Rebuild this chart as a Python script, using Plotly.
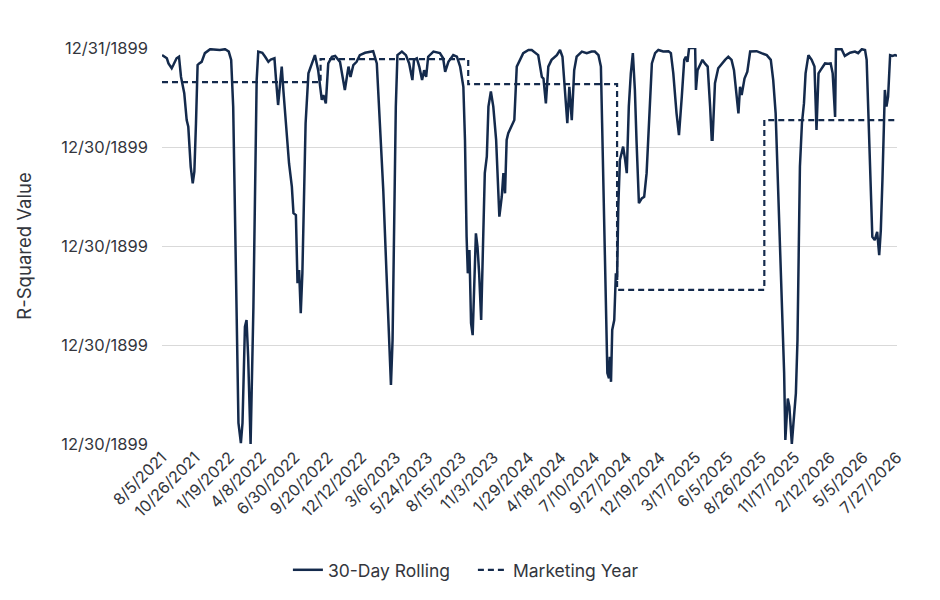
import plotly.graph_objects as go

# 30-day rolling R-squared
rolling_dates = [
    "2021-08-05", "2021-08-17", "2021-08-21", "2021-08-29", "2021-09-02", "2021-09-10",
    "2021-09-16", "2021-09-21", "2021-09-29", "2021-10-05", "2021-10-09", "2021-10-15",
    "2021-10-20", "2021-10-24", "2021-10-28", "2021-11-01", "2021-11-05", "2021-11-11",
    "2021-11-19", "2021-12-02", "2021-12-26", "2022-01-08", "2022-01-17", "2022-01-23",
    "2022-01-28", "2022-02-01", "2022-02-06", "2022-02-10", "2022-02-16", "2022-02-20",
    "2022-02-26", "2022-03-02", "2022-03-06", "2022-03-12", "2022-03-19", "2022-03-23",
    "2022-03-27", "2022-03-31", "2022-04-10", "2022-04-17", "2022-04-25", "2022-05-01",
    "2022-05-10", "2022-05-14", "2022-05-19", "2022-05-24", "2022-05-28", "2022-06-01",
    "2022-06-09", "2022-06-15", "2022-06-22", "2022-06-26", "2022-07-02", "2022-07-06",
    "2022-07-10", "2022-07-14", "2022-07-18", "2022-07-22", "2022-07-26", "2022-08-02",
    "2022-08-10", "2022-08-18", "2022-08-26", "2022-09-04", "2022-09-08", "2022-09-14",
    "2022-09-20", "2022-09-29", "2022-10-07", "2022-10-19", "2022-10-31", "2022-11-09",
    "2022-11-14", "2022-11-21", "2022-11-29", "2022-12-07", "2022-12-20", "2023-01-01",
    "2023-01-09", "2023-01-18", "2023-01-26", "2023-02-03", "2023-02-11", "2023-02-18",
    "2023-02-22", "2023-02-26", "2023-03-02", "2023-03-06", "2023-03-10", "2023-03-21",
    "2023-03-31", "2023-04-08", "2023-04-16", "2023-04-20", "2023-04-27", "2023-05-03",
    "2023-05-10", "2023-05-15", "2023-05-20", "2023-05-25", "2023-06-07", "2023-06-23",
    "2023-07-01", "2023-07-06", "2023-07-14", "2023-07-26", "2023-08-04", "2023-08-12",
    "2023-08-20", "2023-08-24", "2023-08-28", "2023-08-31", "2023-09-04", "2023-09-08",
    "2023-09-12", "2023-09-16", "2023-09-20", "2023-09-24", "2023-09-28", "2023-10-03",
    "2023-10-08", "2023-10-12", "2023-10-17", "2023-10-21", "2023-10-27", "2023-11-02",
    "2023-11-09", "2023-11-17", "2023-11-23", "2023-11-27", "2023-12-01", "2023-12-05",
    "2023-12-09", "2023-12-17", "2023-12-24", "2023-12-30", "2024-01-07", "2024-01-15",
    "2024-01-28", "2024-02-05", "2024-02-21", "2024-03-01", "2024-03-05", "2024-03-11",
    "2024-03-17", "2024-03-25", "2024-04-07", "2024-04-15", "2024-04-21", "2024-04-27",
    "2024-05-03", "2024-05-08", "2024-05-14", "2024-05-20", "2024-05-26", "2024-06-08",
    "2024-06-20", "2024-07-02", "2024-07-10", "2024-07-19", "2024-07-25", "2024-07-28",
    "2024-08-02", "2024-08-06", "2024-08-10", "2024-08-14", "2024-08-16", "2024-08-19",
    "2024-08-22", "2024-08-27", "2024-08-31", "2024-09-03", "2024-09-06", "2024-09-10",
    "2024-09-14", "2024-09-18", "2024-09-23", "2024-09-27", "2024-10-02", "2024-10-07",
    "2024-10-12", "2024-10-17", "2024-10-21", "2024-10-27", "2024-11-03", "2024-11-09",
    "2024-11-15", "2024-11-21", "2024-11-28", "2024-12-06", "2024-12-14", "2024-12-26",
    "2025-01-08", "2025-01-14", "2025-01-20", "2025-01-28", "2025-02-03", "2025-02-10",
    "2025-02-16", "2025-02-20", "2025-02-24", "2025-02-28", "2025-03-15", "2025-03-17",
    "2025-03-21", "2025-03-27", "2025-04-02", "2025-04-08", "2025-04-15", "2025-04-21",
    "2025-04-25", "2025-04-27", "2025-05-03", "2025-05-11", "2025-05-20", "2025-05-28",
    "2025-06-05", "2025-06-13", "2025-06-19", "2025-06-26", "2025-06-30", "2025-07-04",
    "2025-07-08", "2025-07-15", "2025-07-22", "2025-07-29", "2025-08-14", "2025-08-26",
    "2025-09-08", "2025-09-18", "2025-09-24", "2025-09-30", "2025-10-07", "2025-10-12",
    "2025-10-17", "2025-10-21", "2025-10-24", "2025-10-27", "2025-10-30", "2025-11-03",
    "2025-11-09", "2025-11-13", "2025-11-17", "2025-11-19", "2025-11-23", "2025-11-26",
    "2025-11-29", "2025-12-04", "2025-12-09", "2025-12-13", "2025-12-20", "2025-12-28",
    "2026-01-04", "2026-01-09", "2026-01-14", "2026-01-19", "2026-01-24", "2026-01-30",
    "2026-02-07", "2026-02-13", "2026-02-18", "2026-02-24", "2026-02-26", "2026-03-12",
    "2026-03-20", "2026-04-02", "2026-04-14", "2026-04-22", "2026-05-01", "2026-05-09",
    "2026-05-13", "2026-05-17", "2026-05-21", "2026-05-27", "2026-06-02", "2026-06-08",
    "2026-06-13", "2026-06-17", "2026-06-21", "2026-06-27", "2026-07-01", "2026-07-05",
    "2026-07-10", "2026-07-16", "2026-07-22", "2026-07-27",
]
rolling_r2 = [
    0.982, 0.974, 0.961, 0.949, 0.957, 0.974,
    0.978, 0.927, 0.886, 0.818, 0.801, 0.700,
    0.658, 0.688, 0.810, 0.957, 0.961, 0.965,
    0.987, 0.997, 0.995, 0.997, 0.991, 0.970,
    0.852, 0.599, 0.306, 0.053, 0.002, 0.053,
    0.296, 0.313, 0.220, 0.000, 0.347, 0.684,
    0.919, 0.991, 0.988, 0.978, 0.965, 0.971,
    0.974, 0.919, 0.856, 0.911, 0.953, 0.894,
    0.785, 0.709, 0.650, 0.583, 0.578, 0.406,
    0.439, 0.330, 0.431, 0.641, 0.810, 0.936,
    0.961, 0.982, 0.944, 0.869, 0.881, 0.860,
    0.961, 0.978, 0.980, 0.965, 0.894, 0.953,
    0.927, 0.957, 0.965, 0.982, 0.988, 0.991,
    0.992, 0.961, 0.810, 0.641, 0.431, 0.263,
    0.149, 0.263, 0.515, 0.852, 0.982, 0.991,
    0.982, 0.961, 0.919, 0.970, 0.974, 0.953,
    0.919, 0.944, 0.927, 0.978, 0.991, 0.987,
    0.974, 0.940, 0.965, 0.982, 0.978, 0.953,
    0.902, 0.768, 0.523, 0.431, 0.490, 0.305,
    0.275, 0.389, 0.532, 0.498, 0.431, 0.313,
    0.557, 0.684, 0.726, 0.852, 0.890, 0.852,
    0.768, 0.574, 0.625, 0.684, 0.633, 0.768,
    0.785, 0.801, 0.818, 0.953, 0.970, 0.987,
    0.995, 0.995, 0.982, 0.927, 0.923, 0.860,
    0.953, 0.970, 0.982, 0.995, 0.978, 0.894,
    0.810, 0.902, 0.818, 0.944, 0.978, 0.991,
    0.987, 0.991, 0.991, 0.982, 0.953, 0.810,
    0.557, 0.347, 0.179, 0.166, 0.220, 0.157,
    0.288, 0.313, 0.431, 0.414, 0.599, 0.717,
    0.734, 0.751, 0.717, 0.684, 0.852, 0.936,
    0.987, 0.894, 0.768, 0.608, 0.620, 0.624,
    0.684, 0.810, 0.961, 0.987, 0.995, 0.991,
    0.992, 0.987, 0.936, 0.835, 0.780, 0.877,
    0.970, 0.978, 0.965, 1.000, 1.000, 0.894,
    0.944, 0.957, 0.970, 0.961, 0.953, 0.852,
    0.768, 0.768, 0.911, 0.949, 0.961, 0.970,
    0.978, 0.970, 0.944, 0.869, 0.835, 0.902,
    0.881, 0.923, 0.940, 0.991, 0.992, 0.987,
    0.982, 0.970, 0.919, 0.835, 0.624, 0.473,
    0.347, 0.179, 0.010, 0.052, 0.115, 0.094,
    0.000, 0.052, 0.119, 0.128, 0.263, 0.515,
    0.700, 0.810, 0.860, 0.936, 0.982, 0.970,
    0.953, 0.793, 0.936, 0.944, 0.953, 0.961,
    0.960, 0.961, 0.936, 0.826, 0.997, 0.997,
    0.980, 0.988, 0.991, 0.987, 0.997, 0.995,
    0.970, 0.852, 0.726, 0.523, 0.515, 0.536,
    0.477, 0.540, 0.667, 0.894, 0.852, 0.877,
    0.982, 0.980, 0.982, 0.980,
]

# Marketing-year R-squared (Sep-Aug years), drawn as steps
my_dates = ["2021-08-05", "2022-09-01", "2023-09-01", "2024-09-03", "2025-09-02", "2026-07-27"]
my_r2 = [0.914, 0.972, 0.909, 0.389, 0.818, 0.818]

tick_dates = [
    "2021-08-05", "2021-10-26", "2022-01-19", "2022-04-08", "2022-06-30", "2022-09-20",
    "2022-12-12", "2023-03-06", "2023-05-24", "2023-08-15", "2023-11-03", "2024-01-29",
    "2024-04-18", "2024-07-10", "2024-09-27", "2024-12-19", "2025-03-17", "2025-06-05",
    "2025-08-26", "2025-11-17", "2026-02-12", "2026-05-05", "2026-07-27",
]
tick_labels = [
    "8/5/2021", "10/26/2021", "1/19/2022", "4/8/2022", "6/30/2022", "9/20/2022",
    "12/12/2022", "3/6/2023", "5/24/2023", "8/15/2023", "11/3/2023", "1/29/2024",
    "4/18/2024", "7/10/2024", "9/27/2024", "12/19/2024", "3/17/2025", "6/5/2025",
    "8/26/2025", "11/17/2025", "2/12/2026", "5/5/2026", "7/27/2026",
]

# y ticks were formatted as dates in the source spreadsheet
y_ticks = [0, 0.25, 0.5, 0.75, 1]
y_labels = ["12/30/1899", "12/30/1899", "12/30/1899", "12/30/1899", "12/31/1899"]

NAVY = "#142a4c"
TEXT = "#33363d"
FONT = "Inter"

fig = go.Figure()
fig.add_trace(
    go.Scatter(
        x=rolling_dates,
        y=rolling_r2,
        mode="lines",
        name="30-Day Rolling",
        line=dict(color=NAVY, width=2.5),
    )
)
fig.add_trace(
    go.Scatter(
        x=my_dates,
        y=my_r2,
        mode="lines",
        name="Marketing Year",
        line=dict(color=NAVY, width=2.2, dash="6px,4px", shape="hv"),
    )
)

# page body adds an 8px offset, so the figure is a little smaller than the window
fig.update_layout(
    width=932,
    height=592,
    margin=dict(l=154, r=43, t=40, b=156),
    paper_bgcolor="white",
    plot_bgcolor="white",
    font=dict(family=FONT, size=16, color=TEXT),
    showlegend=True,
    legend=dict(
        orientation="h",
        x=0.423,
        xanchor="center",
        y=-0.318,
        yanchor="middle",
        font=dict(size=17.5, color=TEXT),
        itemwidth=30,
        entrywidth=140,
        traceorder="normal",
    ),
)
fig.update_xaxes(
    type="date",
    range=["2021-08-05", "2026-07-27"],
    tickmode="array",
    tickvals=tick_dates,
    ticktext=tick_labels,
    tickangle=-45,
    showgrid=False,
    showline=False,
    zeroline=False,
    ticks="",
    tickfont=dict(size=16, color=TEXT),
)
fig.update_yaxes(
    range=[0, 1],
    tickmode="array",
    tickvals=y_ticks,
    ticktext=y_labels,
    showgrid=True,
    gridcolor="#d9d9d9",
    gridwidth=1,
    zeroline=False,
    showline=False,
    ticks="",
    ticklabelstandoff=13,
    tickfont=dict(size=16.5, color=TEXT),
    title=dict(text="R-Squared Value", font=dict(size=18.5, color=TEXT), standoff=24),
)

fig.write_html("out.html")
